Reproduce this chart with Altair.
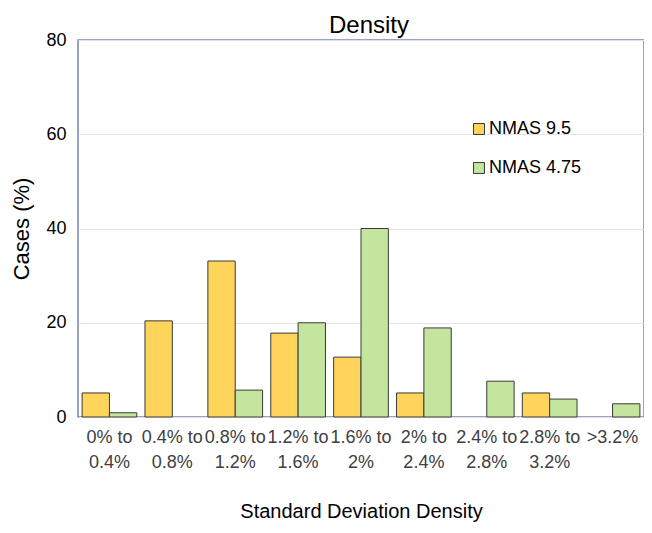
import altair as alt
import pandas as pd

categories = ["0% to|0.4%", "0.4% to|0.8%", "0.8% to|1.2%", "1.2% to|1.6%", "1.6% to|2%",
              "2% to|2.4%", "2.4% to|2.8%", "2.8% to|3.2%", ">3.2%"]
series_names = ["NMAS 9.5", "NMAS 4.75"]
nmas_95 = [5.1, 20.4, 33.1, 17.8, 12.7, 5.1, 0.0, 5.1, 0.0]
nmas_475 = [0.9, 0.0, 5.7, 20.0, 40.0, 18.9, 7.6, 3.8, 2.8]

rows = []
for c, a, b in zip(categories, nmas_95, nmas_475):
    rows.append({"cat": c, "series": series_names[0], "value": a})
    rows.append({"cat": c, "series": series_names[1], "value": b})
df = pd.DataFrame(rows)

FONT = "Arial"

chart = alt.Chart(df).transform_filter(
    "datum.value > 0"
).mark_bar(stroke="#3a3a3a", strokeWidth=1).encode(
    x=alt.X("cat:N", sort=categories, scale=alt.Scale(domain=categories, paddingInner=0.13, paddingOuter=0.065),
            axis=alt.Axis(title="Standard Deviation Density", labelAngle=0,
                          labelExpr="split(datum.label, '|')", ticks=False,
                          labelFontSize=18, labelColor="#404040", labelPadding=11,
                          labelLineHeight=25, titleFontSize=20, titleFontWeight="normal",
                          titleColor="#000000", titlePadding=30, domain=False,
                          labelFont=FONT, titleFont=FONT)),
    xOffset=alt.XOffset("series:N", sort=series_names, scale=alt.Scale(domain=series_names)),
    y=alt.Y("value:Q", scale=alt.Scale(domain=[0, 80], nice=False),
            axis=alt.Axis(title="Cases (%)", values=[0, 20, 40, 60, 80], ticks=False,
                          labelFontSize=18, labelColor="#000000", labelPadding=12,
                          titleFontSize=22, titleFontWeight="normal", titleColor="#000000",
                          titlePadding=12, domain=False, gridColor="#e3e3e3",
                          labelFont=FONT, titleFont=FONT)),
    fill=alt.Fill("series:N", sort=series_names,
                  scale=alt.Scale(domain=series_names, range=["#FFD45A", "#C4E59E"]),
                  legend=alt.Legend(title=None, orient="none", legendX=392, legendY=80,
                                    symbolType="square", symbolSize=120,
                                    symbolStrokeColor="#3a3a3a", symbolStrokeWidth=1,
                                    labelFontSize=18, labelColor="#000000",
                                    labelFont=FONT, rowPadding=21, labelOffset=1)),
).properties(
    width=566, height=377,
    autosize=alt.AutoSizeParams(type="none"),
    padding={"left": 70, "top": 32, "right": 0, "bottom": 107},
    title=alt.Title("Density", fontSize=24, fontWeight="normal", font=FONT,
                    color="#000000", offset=-7, dx=8),
).configure_view(
    stroke="#7585b5", strokeWidth=1.5
)

chart.save("out.html", embed_options={"renderer": "svg", "actions": False})
